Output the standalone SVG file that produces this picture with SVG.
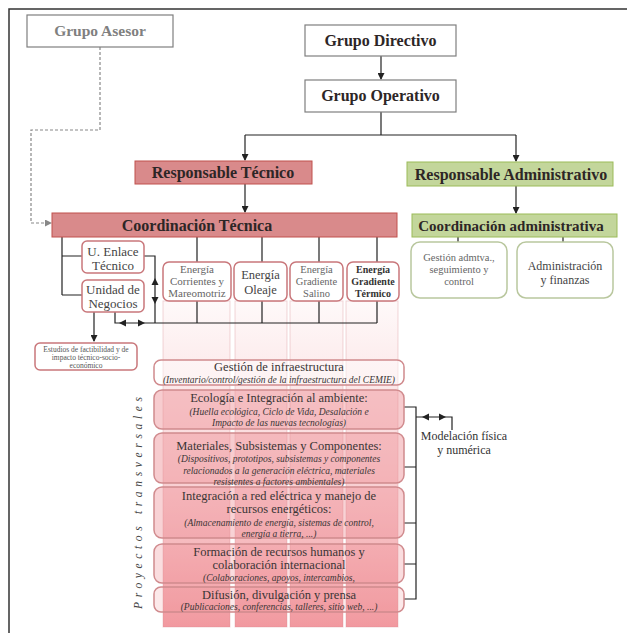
<svg xmlns="http://www.w3.org/2000/svg" width="627" height="633" viewBox="0 0 627 633">
<defs>
<style>
text{font-family:"Liberation Serif","Times New Roman",serif;text-anchor:middle;fill:#333}
.h{font-weight:bold;font-size:16px;fill:#2d2626}
.hg{font-weight:bold;font-size:15.5px;fill:#808080}
.plain{fill:#fff;stroke:#7f7f7f;stroke-width:1.2}
.red{fill:#d98a8b;stroke:#c0504d;stroke-width:1}
.green{fill:#c3d69b;stroke:#9bbb59;stroke-width:1}
.rb{fill:#fff;stroke:#c9777b;stroke-width:1.5}
.gb{fill:#fff;stroke:#b9c79e;stroke-width:1.5}
.tb{stroke:#d08a8d;stroke-width:1.5}
.ln{fill:none;stroke:#222;stroke-width:1.2}
.t1{font-size:12.5px;fill:#3a3535}
.ti{font-size:9.5px;font-style:italic;fill:#3a3535}
.strip{fill:url(#sg);stroke:rgba(215,140,145,0.35);stroke-width:1}
</style>
<linearGradient id="sg" gradientUnits="userSpaceOnUse" x1="0" y1="301" x2="0" y2="627">
<stop offset="0" stop-color="#f08c92" stop-opacity="0.05"/>
<stop offset="0.5" stop-color="#f08c92" stop-opacity="0.35"/>
<stop offset="1" stop-color="#ee7f87" stop-opacity="0.8"/>
</linearGradient>
<marker id="ah" markerWidth="7" markerHeight="7" refX="6" refY="3.5" orient="auto" markerUnits="userSpaceOnUse"><path d="M0,0 L7,3.5 L0,7 z" fill="#222"/></marker>
<marker id="ahg" markerWidth="7" markerHeight="7" refX="6" refY="3.5" orient="auto" markerUnits="userSpaceOnUse"><path d="M0,0 L7,3.5 L0,7 z" fill="#888"/></marker>
</defs>
<rect width="627" height="633" fill="#fff"/>
<path d="M9,640 V9 H640" fill="none" stroke="#333" stroke-width="1.5"/>

<g id="strips">
<rect class="strip" x="163" y="301" width="67" height="326"/>
<rect class="strip" x="235" y="301" width="52" height="326"/>
<rect class="strip" x="290" y="301" width="53" height="326"/>
<rect class="strip" x="346" y="301" width="52" height="326"/>
</g>

<g id="connectors">
<path class="ln" d="M381,56 V79" marker-end="url(#ah)"/>
<path class="ln" d="M381,112 V135 M245,135 H516"/>
<path class="ln" d="M245,135 V160" marker-end="url(#ah)"/>
<path class="ln" d="M516,135 V161" marker-end="url(#ah)"/>
<path class="ln" d="M245,184 V212" marker-end="url(#ah)"/>
<path class="ln" d="M516,186 V213" marker-end="url(#ah)"/>
<path d="M100,47 V130 H31 V223 H51" fill="none" stroke="#888" stroke-width="1.2" stroke-dasharray="3,2" marker-end="url(#ahg)"/>
<path class="ln" d="M62,237 V295 M62,256 H82 M62,295 H82"/>
<path class="ln" d="M144,256 H155 V323 M115,312 V323 H377"/>
<path class="ln" d="M197,237 V262 M262,237 V262 M319,237 V262 M377,237 V262"/>
<path class="ln" d="M197,301 V323 M262,301 V323 M319,301 V323 M377,301 V323"/>
<path class="ln" d="M94,312 V341" marker-end="url(#ah)"/>
<polygon points="155,278 151.5,285 158.5,285" fill="#222"/>
<polygon points="155,304 151.5,297 158.5,297" fill="#222"/>
<polygon points="119,323 126,319.5 126,326.5" fill="#222"/>
<polygon points="145,323 138,319.5 138,326.5" fill="#222"/>
<path class="ln" d="M458,237 V242 M563,237 V242"/>
<path class="ln" d="M404,407 H416 V599 H404 M404,467 H416 M404,523 H416 M404,564 H416"/>
<path class="ln" d="M416,417 H452 V430"/>
<polygon points="422,417 429,413.5 429,420.5" fill="#222"/>
<polygon points="446,417 439,413.5 439,420.5" fill="#222"/>
</g>

<g id="grupo-asesor"><rect class="plain" x="27" y="15" width="146" height="32"/><text class="hg" x="100" y="36">Grupo Asesor</text></g>
<g id="grupo-directivo"><rect class="plain" x="305" y="25" width="151" height="31"/><text class="h" x="380.5" y="46">Grupo Directivo</text></g>
<g id="grupo-operativo"><rect class="plain" x="305" y="80" width="151" height="32"/><text class="h" x="380.5" y="101">Grupo Operativo</text></g>

<g id="resp-tecnico"><rect class="red" x="135" y="161" width="177" height="23"/><text class="h" x="223" y="178">Responsable Técnico</text></g>
<g id="coord-tecnica"><rect class="red" x="52" y="213" width="345" height="24"/><text class="h" x="197" y="231">Coordinación Técnica</text></g>
<g id="resp-admin"><rect class="green" x="407" y="162" width="206" height="24"/><text class="h" x="511" y="179.5">Responsable Administrativo</text></g>
<g id="coord-admin"><rect class="green" x="412" y="214" width="205" height="23"/><text class="h" x="511" y="231" style="font-size:15px">Coordinación administrativa</text></g>

<g id="gestion-admtva"><rect class="gb" x="411" y="242" width="96" height="56" rx="9"/>
<text x="459" y="261" style="font-size:10.5px;fill:#666">Gestión admtva.,</text>
<text x="459" y="273" style="font-size:10.5px;fill:#666">seguimiento y</text>
<text x="459" y="285" style="font-size:10.5px;fill:#666">control</text></g>
<g id="admin-finanzas"><rect class="gb" x="517" y="242" width="96" height="56" rx="9"/>
<text x="565" y="270" style="font-size:12px;fill:#444">Administración</text>
<text x="565" y="284" style="font-size:12px;fill:#444">y finanzas</text></g>

<g id="u-enlace"><rect class="rb" x="82" y="241" width="62" height="32" rx="5"/>
<text x="113" y="256" style="font-size:13px;fill:#444">U. Enlace</text>
<text x="113" y="269.5" style="font-size:13px;fill:#444">Técnico</text></g>
<g id="unidad-negocios"><rect class="rb" x="82" y="280" width="62" height="32" rx="5"/>
<text x="113" y="294" style="font-size:13px;fill:#444">Unidad de</text>
<text x="113" y="308" style="font-size:13px;fill:#444">Negocios</text></g>
<g id="estudios"><rect class="rb" x="35" y="343" width="102" height="27" rx="5"/>
<text x="86" y="351.5" style="font-size:7.5px;fill:#555">Estudios de factibilidad y de</text>
<text x="86" y="359.5" style="font-size:7.5px;fill:#555">impacto técnico-socio-</text>
<text x="86" y="367.5" style="font-size:7.5px;fill:#555">económico</text></g>

<g id="energia-corrientes"><rect class="rb" x="163" y="262" width="68" height="39" rx="6"/>
<text x="197" y="273" style="font-size:11px;fill:#666">Energía</text>
<text x="197" y="285" style="font-size:11px;fill:#666">Corrientes y</text>
<text x="197" y="297" style="font-size:11px;fill:#666">Mareomotriz</text></g>
<g id="energia-oleaje"><rect class="rb" x="234" y="262" width="53" height="39" rx="6"/>
<text x="260.5" y="279" style="font-size:12.5px;fill:#444">Energía</text>
<text x="260.5" y="293.5" style="font-size:12.5px;fill:#444">Oleaje</text></g>
<g id="energia-salino"><rect class="rb" x="290" y="262" width="53" height="39" rx="6"/>
<text x="316.5" y="273" style="font-size:10.5px;fill:#666">Energía</text>
<text x="316.5" y="285" style="font-size:10.5px;fill:#666">Gradiente</text>
<text x="316.5" y="297" style="font-size:10.5px;fill:#666">Salino</text></g>
<g id="energia-termico"><rect class="rb" x="347" y="262" width="52" height="39" rx="6"/>
<text x="373" y="273" style="font-size:10px;font-weight:bold;fill:#333">Energía</text>
<text x="373" y="285" style="font-size:10px;font-weight:bold;fill:#333">Gradiente</text>
<text x="373" y="297" style="font-size:10px;font-weight:bold;fill:#333">Térmico</text></g>

<g id="gestion-infra"><rect class="tb" x="154" y="360" width="250" height="25" rx="7" fill="#fff" fill-opacity="0.45"/>
<text class="t1" x="279" y="371">Gestión de infraestructura</text>
<text class="ti" x="279" y="382.5">(Inventario/control/gestión de la infraestructura del CEMIE)</text></g>
<g id="ecologia"><rect class="tb" x="154" y="390" width="250" height="39" rx="8" fill="#ee8f95" fill-opacity="0.45"/>
<text class="t1" x="279" y="402">Ecología e Integración al ambiente:</text>
<text class="ti" x="279" y="414.5">(Huella ecológica, Ciclo de Vida, Desalación e</text>
<text class="ti" x="279" y="426">Impacto de las nuevas tecnologías)</text></g>
<g id="materiales"><rect class="tb" x="154" y="433" width="250" height="50" rx="8" fill="#ee8f95" fill-opacity="0.45"/>
<text class="t1" x="279" y="450">Materiales, Subsistemas y Componentes:</text>
<text class="ti" x="279" y="462">(Dispositivos, prototipos, subsistemas y componentes</text>
<text class="ti" x="279" y="474">relacionados a  la generación eléctrica, materiales</text>
<text class="ti" x="279" y="485">resistentes a factores ambientales)</text></g>
<g id="integracion"><rect class="tb" x="154" y="487" width="250" height="51" rx="8" fill="#ee8f95" fill-opacity="0.4"/>
<text class="t1" x="279" y="500">Integración a red eléctrica y manejo de</text>
<text class="t1" x="279" y="513">recursos energéticos:</text>
<text class="ti" x="279" y="525.5">(Almacenamiento de energía, sistemas de control,</text>
<text class="ti" x="279" y="537">energía a tierra, ...)</text></g>
<g id="formacion"><rect class="tb" x="154" y="544" width="250" height="39" rx="8" fill="#ee8f95" fill-opacity="0.3"/>
<text class="t1" x="279" y="556">Formación de recursos humanos y</text>
<text class="t1" x="279" y="569">colaboración internacional</text>
<text class="ti" x="279" y="581">(Colaboraciones, apoyos, intercambios,</text></g>
<g id="difusion"><rect class="tb" x="154" y="587" width="250" height="25" rx="7" fill="#ee8f95" fill-opacity="0.2"/>
<text class="t1" x="279" y="599">Difusión, divulgación y prensa</text>
<text class="ti" x="279" y="610">(Publicaciones, conferencias, talleres, sitio web, ...)</text></g>

<g id="modelacion">
<text x="464" y="440" style="font-size:12px;fill:#333">Modelación física</text>
<text x="464" y="454" style="font-size:12px;fill:#333">y numérica</text>
</g>
<text transform="translate(142,503) rotate(-90)" textLength="212" lengthAdjust="spacing" style="font-size:11.5px;font-style:italic;fill:#444">Proyectos transversales</text>
</svg>
